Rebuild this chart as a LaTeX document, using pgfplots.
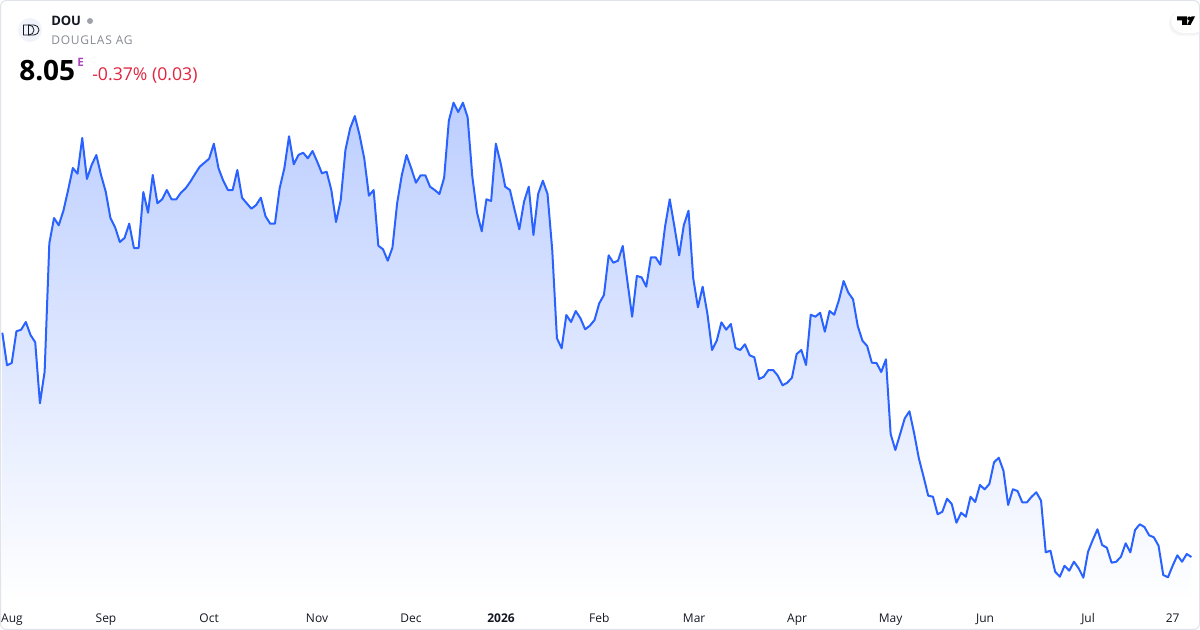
\documentclass[border=0pt]{standalone}
\usepackage{pgfplots}
\pgfplotsset{compat=1.18}
\usepackage{pgfplotstable}
\usepackage{fontspec}
\setmainfont{Open Sans}
\definecolor{tvblue}{HTML}{2962FF}
\definecolor{tvtext}{HTML}{131722}
\definecolor{tvgrey}{HTML}{868993}
\definecolor{tvred}{HTML}{E0253F}
\definecolor{tvborder}{HTML}{E0E3EB}
\definecolor{tvlogo}{HTML}{F0F3FA}
\definecolor{tvpurple}{HTML}{AB47BC}
\pgfplotstableread{
i y
0 332.7
1 365.3
2 363
3 331.3
4 329.7
5 322
6 335
7 342.3
8 403.3
9 371.7
10 243.3
11 218
12 225.3
13 210.7
14 190
15 168
16 173.7
17 138
18 179
19 165
20 155
21 175
22 191.7
23 218
24 227.3
25 242
26 238
27 223.7
28 248
29 248
30 192
31 212.7
32 175
33 203.3
34 199.3
35 190
36 199.3
37 199.3
38 192.7
39 188.3
40 181.7
41 174
42 166.7
43 162.7
44 158.7
45 143.7
46 168.3
47 180.7
48 190
49 190
50 170
51 197.7
52 203.3
53 208.7
54 205
55 197.7
56 216.3
57 223.7
58 223.7
59 188.3
60 168.3
61 136.3
62 164.3
63 155
64 152.7
65 158.3
66 151
67 161.7
68 173.3
69 171.7
70 190
71 222
72 200
73 150
74 128.3
75 116
76 135
77 158.3
78 195.7
79 190
80 245.7
81 249.3
82 260.7
83 247.7
84 203.3
85 175
86 155
87 168.3
88 182.7
89 175.3
90 175.3
91 186.7
92 190
93 194
94 177.7
95 120.7
96 102.7
97 112
98 102.7
99 117.3
100 176.7
101 212.7
102 231.3
103 199.3
104 201
105 143.7
106 162.7
107 186.7
108 190
109 210
110 229.3
111 201.7
112 186.7
113 235
114 194
115 180.7
116 194
117 250
118 338.3
119 348.3
120 315
121 322
122 311
123 318.3
124 329.3
125 325.7
126 320
127 303.3
128 295
129 255.3
130 262.7
131 260.7
132 246
133 281.7
134 316.7
135 276
136 277.3
137 286.7
138 257.3
139 257.3
140 264.7
141 226.7
142 199.3
143 226.7
144 255.3
145 225
146 210.7
147 278.3
148 307.3
149 286.7
150 313.3
151 350
152 340.7
153 322.3
154 329.7
155 324
156 348
157 350
158 344.3
159 355.3
160 357.3
161 379
162 376.7
163 370
164 370
165 375.7
166 385.3
167 382.7
168 377.7
169 354
170 350
171 365
172 314.7
173 316.7
174 312.7
175 331.7
176 311
177 314.7
178 300
179 281
180 292.7
181 299.3
182 326
183 340.7
184 346
185 362.7
186 363
187 372
188 359.3
189 434
190 450
191 434.3
192 418.3
193 411.3
194 433.3
195 458.3
196 476.7
197 495.7
198 496.7
199 514.3
200 511.7
201 498.7
202 504
203 522.7
204 512.7
205 516.7
206 496.7
207 502
208 485
209 489.3
210 484
211 462.3
212 457.7
213 470.7
214 505
215 489.3
216 491
217 502.3
218 502.3
219 496.7
220 492.3
221 500.7
222 552.3
223 550.7
224 571.7
225 576.7
226 565.7
227 570.7
228 561.7
229 568.3
230 577.7
231 551.7
232 540
233 529.3
234 545
235 547.7
236 562.7
237 561.7
238 556.7
239 543.3
240 552.3
241 530
242 524.3
243 527
244 535.3
245 537.3
246 545.7
247 575
248 577.3
249 565.7
250 555.3
251 561.7
252 554
253 557
}\pricedata
\begin{document}
\begin{tikzpicture}[x=0.75pt,y=-0.75pt]
\useasboundingbox (0,0) rectangle (1200,630);
\begin{axis}[
  at={(0,630)}, anchor=south west,
  scale only axis, width=900pt, height=472.5pt,
  xmin=-0.496, xmax=254.82,
  ymin=0, ymax=630, y dir=reverse,
  clip=true,
  axis line style={draw=none},
  ytick=\empty,
  major tick length=0pt,
  xtick={2.06,22.06,44,66.95,86.95,106.1,127,147.2,169.1,189,209.1,231,249},
  xticklabels={Aug,Sep,Oct,Nov,Dec,\textbf{2026},Feb,Mar,Apr,May,Jun,Jul,27},
  xticklabel pos=bottom,
  xticklabel style={font=\fontsize{9}{11}\selectfont, text=tvtext, anchor=base, yshift=5.6pt, inner sep=0pt},
]
\addplot[draw=none, shade, top color=tvblue!31!white, bottom color=white, forget plot]
  table[x=i,y=y] {\pricedata} -- (axis cs:253,603) -- (axis cs:0,603) -- cycle;
\addplot[color=tvblue, line width=1.5pt, line join=round, mark=none] table[x=i,y=y] {\pricedata};
\end{axis}
\draw[tvborder, line width=0.75pt, rounded corners=4.5pt] (0.5,0.5) rectangle (1199.5,629.5);
% logo
\fill[tvlogo] (30,30) circle[radius=12];
\draw[tvtext, line width=0.6pt] (23.5,25) -- (29,25) arc[start angle=-90,end angle=90,radius=5] -- (23.5,35) -- cycle;
\draw[tvtext, line width=0.6pt] (28.5,25) -- (34,25) arc[start angle=-90,end angle=90,radius=5] -- (28.5,35) -- cycle;
% header
\node[anchor=base west, inner sep=0pt, text=tvtext] at (51,26) {\fontsize{9.75}{12}\selectfont\textbf{DOU}};
\fill[tvgrey!80] (90,21) circle[radius=3];
\node[anchor=base west, inner sep=0pt, text=tvgrey] at (51,45) {\fontsize{9}{11}\selectfont\addfontfeature{LetterSpace=6.5}DOUGLAS AG};
\node[anchor=base west, inner sep=0pt, text=black] at (19,81) {\fontsize{21}{25}\selectfont\textbf{8.05}};
\node[anchor=base west, inner sep=0pt, text=tvpurple] at (77,66.5) {\fontsize{8.7}{10}\selectfont\textbf{E}};
\node[anchor=base west, inner sep=0pt, text=tvred] at (92,81) {\fontsize{13.25}{15}\selectfont -0.37\% (0.03)};
% TradingView badge
\begin{scope}
\clip (1160,2) rectangle (1199,45);
\fill[black!3, rounded corners=9pt] (1169,11) -- (1206,11) -- (1206,36) -- (1169,36) -- cycle;
\fill[black!5, rounded corners=9pt] (1170,10.5) -- (1206,10.5) -- (1206,34.5) -- (1170,34.5) -- cycle;
\fill[white, rounded corners=9pt] (1171,10) -- (1206,10) -- (1206,33) -- (1171,33) -- cycle;
\end{scope}
\fill[black] (1177,16.5) -- (1187,16.5) -- (1187,25) -- (1182,25) -- (1182,20.5) -- (1177,20.5) -- cycle;
\fill[black] (1189.3,18.5) circle[radius=2];
\fill[black] (1191.5,16.5) -- (1195,16.5) -- (1190.5,25) -- (1187,25) -- cycle;
\end{tikzpicture}
\end{document}
